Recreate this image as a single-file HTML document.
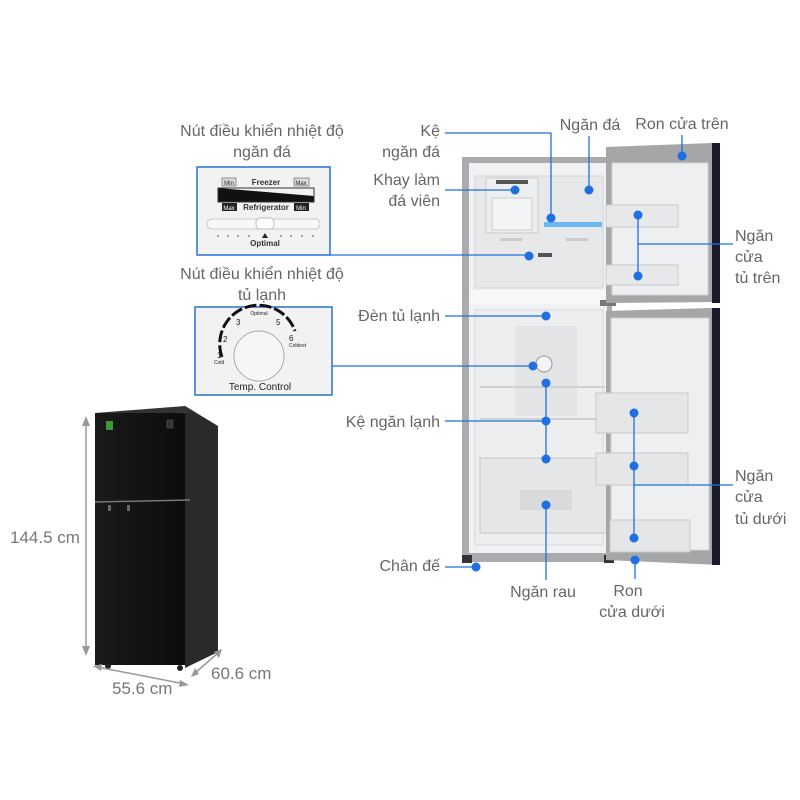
<!DOCTYPE html>
<html><head><meta charset="utf-8"><style>
html,body{margin:0;padding:0;background:#fff;width:800px;height:800px;overflow:hidden}
svg{display:block}
text{font-family:"Liberation Sans",sans-serif;fill:#666}
.l{font-size:16px}
</style></head><body>
<svg width="800" height="800" viewBox="0 0 800 800" xmlns="http://www.w3.org/2000/svg">
<defs>
<linearGradient id="blk" x1="0" x2="1"><stop offset="0" stop-color="#1a1a1a"/><stop offset="1" stop-color="#0c0c0c"/></linearGradient>
</defs>
<!-- black fridge -->
<polygon points="185,406 218,426 218,652 185,668" fill="#2a2a2a"/>
<polygon points="95,413 185,406 195,412 105,419" fill="#333"/>
<rect x="95" y="413" width="90" height="252" fill="url(#blk)"/>
<line x1="95" y1="502" x2="190" y2="500" stroke="#777" stroke-width="1.5"/>
<rect x="106" y="421" width="7" height="9" fill="#3a9a3a"/>
<rect x="167" y="420" width="6" height="8" fill="#333" stroke="#666" stroke-width="0.5"/>
<rect x="108" y="505" width="3" height="6" fill="#666"/><rect x="127" y="505" width="3" height="6" fill="#666"/>
<circle cx="108" cy="666" r="3" fill="#222"/><circle cx="180" cy="668" r="3" fill="#222"/>
<!-- dimension arrows -->
<g stroke="#999" stroke-width="1.5" fill="#999">
<line x1="86" y1="420" x2="86" y2="652"/>
<polygon points="86,416 82,426 90,426" stroke="none"/><polygon points="86,656 82,646 90,646" stroke="none"/>
<line x1="97" y1="667" x2="185" y2="684"/>
<polygon points="93,666 102,664 101,671" stroke="none"/><polygon points="189,685 180,680 179,687" stroke="none"/>
<line x1="194" y1="674" x2="219" y2="652"/>
<polygon points="191,677 195,668 199,674" stroke="none"/><polygon points="222,649 214,652 219,658" stroke="none"/>
</g>
<text x="10" y="543" font-size="17" style="fill:#777">144.5 cm</text>
<text x="112" y="694" font-size="17" style="fill:#777">55.6 cm</text>
<text x="211" y="679" font-size="17" style="fill:#777">60.6 cm</text>

<!-- open fridge body -->
<rect x="462" y="157" width="150" height="405" fill="#a9abae"/>
<rect x="469" y="163" width="138" height="390" fill="#f0f1f2"/>
<rect x="475" y="176" width="128" height="112" fill="#e6e8ea" stroke="#d2d4d6"/>
<rect x="486" y="178" width="52" height="55" fill="#eceef0" stroke="#c8cacc"/>
<rect x="496" y="180" width="32" height="4" fill="#555"/>
<rect x="492" y="198" width="40" height="32" fill="#f3f4f5" stroke="#ccc"/>
<rect x="544" y="222" width="58" height="5" fill="#6ab6f0"/>
<rect x="500" y="238" width="22" height="3" fill="#ccc"/><rect x="566" y="238" width="22" height="3" fill="#ccc"/>
<rect x="538" y="253" width="14" height="4" fill="#555"/>
<rect x="469" y="290" width="138" height="14" fill="#f7f7f8"/>
<rect x="475" y="310" width="128" height="235" fill="#eceef0" stroke="#d6d8da"/>
<rect x="515" y="326" width="62" height="90" fill="#e2e4e6"/>
<circle cx="544" cy="364" r="8" fill="#f4f4f4" stroke="#999"/>
<line x1="480" y1="387" x2="605" y2="387" stroke="#cfd1d3" stroke-width="2"/>
<line x1="480" y1="419" x2="605" y2="419" stroke="#cfd1d3" stroke-width="2"/>
<rect x="480" y="458" width="128" height="75" fill="#e4e6e8" stroke="#c4c6c8"/>
<rect x="520" y="490" width="52" height="20" fill="#d8dadc"/>
<rect x="462" y="555" width="10" height="8" fill="#333"/><rect x="604" y="555" width="10" height="8" fill="#333"/>
<rect x="600" y="300" width="16" height="6" fill="#777"/>
<!-- upper door -->
<polygon points="606,147 712,143 720,143 720,302 606,303" fill="#a4a6a8"/>
<rect x="712" y="143" width="8" height="160" fill="#1a1a2a"/>
<rect x="612" y="163" width="96" height="132" fill="#eeeff0" stroke="#cfd1d3"/>
<rect x="606" y="205" width="72" height="22" fill="#e6e8ea" stroke="#c8cacc"/>
<rect x="606" y="265" width="72" height="20" fill="#e6e8ea" stroke="#c8cacc"/>
<!-- lower door -->
<polygon points="606,311 712,308 720,308 720,565 606,560" fill="#a4a6a8"/>
<rect x="712" y="308" width="8" height="257" fill="#1a1a2a"/>
<rect x="611" y="318" width="98" height="232" fill="#eeeff0" stroke="#cfd1d3"/>
<rect x="596" y="393" width="92" height="40" fill="#e4e6e8" stroke="#c6c8ca"/>
<rect x="596" y="453" width="92" height="32" fill="#e4e6e8" stroke="#c6c8ca"/>
<rect x="610" y="520" width="80" height="32" fill="#e4e6e8" stroke="#c6c8ca"/>

<!-- control boxes -->
<rect x="197" y="167" width="133" height="88" fill="#f2f2f2" stroke="#2a6fd6" stroke-width="1.5"/>
<rect x="222" y="178" width="14" height="8" fill="#ddd" stroke="#555" stroke-width="0.6"/>
<text x="229" y="185" font-size="6" text-anchor="middle" style="fill:#222">Min</text>
<text x="266" y="185" font-size="8" font-weight="bold" text-anchor="middle" style="fill:#333">Freezer</text>
<rect x="294" y="178" width="15" height="8" fill="#ddd" stroke="#555" stroke-width="0.6"/>
<text x="301" y="185" font-size="6" text-anchor="middle" style="fill:#222">Max</text>
<polygon points="218,188 314,196 314,202 218,202" fill="#111"/>
<rect x="218" y="188" width="96" height="14" fill="none" stroke="#333"/>
<rect x="222" y="203" width="15" height="8" fill="#222"/>
<text x="229" y="210" font-size="6" text-anchor="middle" style="fill:#fff">Max</text>
<text x="266" y="210" font-size="8" font-weight="bold" text-anchor="middle" style="fill:#333">Refrigerator</text>
<rect x="294" y="203" width="15" height="8" fill="#222"/>
<text x="301" y="210" font-size="6" text-anchor="middle" style="fill:#fff">Min</text>
<rect x="207" y="219" width="113" height="10" rx="5" fill="#f8f8f8" stroke="#ccc"/>
<rect x="256" y="218" width="18" height="11" rx="4" fill="#fff" stroke="#bbb"/>
<g fill="#444"><circle cx="218" cy="236" r="0.8"/><circle cx="228" cy="236" r="0.8"/><circle cx="238" cy="236" r="0.8"/><circle cx="249" cy="236" r="0.8"/><circle cx="281" cy="236" r="0.8"/><circle cx="291" cy="236" r="0.8"/><circle cx="302" cy="236" r="0.8"/><circle cx="313" cy="236" r="0.8"/></g>
<polygon points="265,233 262,238 268,238" fill="#222"/>
<text x="265" y="246" font-size="8" font-weight="bold" text-anchor="middle" style="fill:#333">Optimal</text>
<rect x="195" y="307" width="137" height="88" fill="#f2f2f2" stroke="#2a6fd6" stroke-width="1.5"/>
<path d="M222,357 A38,38 0 0 1 295,331" fill="none" stroke="#111" stroke-width="3" stroke-dasharray="12 3"/>
<circle cx="259" cy="356" r="25" fill="#f6f6f6" stroke="#aaa"/>
<text x="260" y="390" font-size="10" text-anchor="middle" style="fill:#222">Temp. Control</text>
<text x="217" y="358" font-size="8" style="fill:#222">1</text><text x="223" y="342" font-size="8" style="fill:#222">2</text>
<text x="236" y="325" font-size="8" style="fill:#222">3</text><text x="276" y="325" font-size="8" style="fill:#222">5</text>
<text x="289" y="341" font-size="8" style="fill:#222">6</text>
<text x="259" y="315" font-size="5" text-anchor="middle" style="fill:#222">Optimal</text>
<text x="214" y="364" font-size="5" style="fill:#222">Cold</text>
<text x="289" y="347" font-size="5" style="fill:#222">Coldest</text>

<!-- labels -->
<g class="l">
<text x="262" y="136" text-anchor="middle" class="l">Nút điều khiển nhiệt độ</text>
<text x="262" y="157" text-anchor="middle" class="l">ngăn đá</text>
<text x="262" y="279" text-anchor="middle" class="l">Nút điều khiển nhiệt độ</text>
<text x="262" y="300" text-anchor="middle" class="l">tủ lạnh</text>
<text x="440" y="136" text-anchor="end" class="l">Kệ</text>
<text x="440" y="157" text-anchor="end" class="l">ngăn đá</text>
<text x="440" y="185" text-anchor="end" class="l">Khay làm</text>
<text x="440" y="206" text-anchor="end" class="l">đá viên</text>
<text x="590" y="130" text-anchor="middle" class="l">Ngăn đá</text>
<text x="682" y="129" text-anchor="middle" class="l">Ron cửa trên</text>
<text x="735" y="241" class="l">Ngăn</text><text x="735" y="262" class="l">cửa</text><text x="735" y="283" class="l">tủ trên</text>
<text x="440" y="321" text-anchor="end" class="l">Đèn tủ lạnh</text>
<text x="440" y="427" text-anchor="end" class="l">Kệ ngăn lạnh</text>
<text x="735" y="481" class="l">Ngăn</text><text x="735" y="502" class="l">cửa</text><text x="735" y="524" class="l">tủ dưới</text>
<text x="440" y="571" text-anchor="end" class="l">Chân đế</text>
<text x="543" y="597" text-anchor="middle" class="l">Ngăn rau</text>
<text x="628" y="596" text-anchor="middle" class="l">Ron</text>
<text x="632" y="617" text-anchor="middle" class="l">cửa dưới</text>
</g>

<!-- connectors -->
<g stroke="#1f6fe0" stroke-width="1.3" fill="none">
<polyline points="445,133 551,133 551,218"/>
<line x1="589" y1="136" x2="589" y2="190"/>
<line x1="682" y1="135" x2="682" y2="156"/>
<line x1="445" y1="190" x2="515" y2="190"/>
<line x1="330" y1="255" x2="529" y2="255"/>
<line x1="638" y1="215" x2="638" y2="276"/>
<line x1="638" y1="244" x2="733" y2="244"/>
<line x1="445" y1="316" x2="546" y2="316"/>
<line x1="332" y1="366" x2="533" y2="366"/>
<line x1="445" y1="421" x2="546" y2="421"/>
<line x1="546" y1="383" x2="546" y2="459"/>
<line x1="546" y1="505" x2="546" y2="580"/>
<line x1="634" y1="413" x2="634" y2="538"/>
<line x1="634" y1="485" x2="733" y2="485"/>
<line x1="635" y1="560" x2="635" y2="579"/>
<line x1="445" y1="567" x2="476" y2="567"/>
</g>
<g fill="#1f6fe0">
<circle cx="551" cy="218" r="4.5"/><circle cx="589" cy="190" r="4.5"/><circle cx="682" cy="156" r="4.5"/>
<circle cx="515" cy="190" r="4.5"/><circle cx="529" cy="256" r="4.5"/>
<circle cx="638" cy="215" r="4.5"/><circle cx="638" cy="276" r="4.5"/>
<circle cx="546" cy="316" r="4.5"/><circle cx="533" cy="366" r="4.5"/>
<circle cx="546" cy="383" r="4.5"/><circle cx="546" cy="421" r="4.5"/><circle cx="546" cy="459" r="4.5"/>
<circle cx="546" cy="505" r="4.5"/>
<circle cx="634" cy="413" r="4.5"/><circle cx="634" cy="466" r="4.5"/><circle cx="634" cy="538" r="4.5"/>
<circle cx="635" cy="560" r="4.5"/><circle cx="476" cy="567" r="4.5"/>
</g>
</svg>
</body></html>
